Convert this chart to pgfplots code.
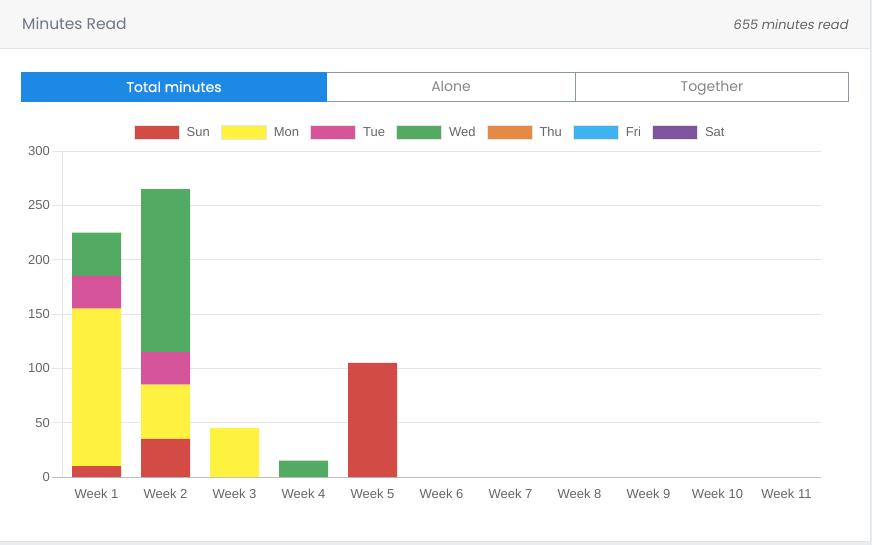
\documentclass[border=0pt]{standalone}
\usepackage{pgfplots}
\pgfplotsset{compat=1.18}
\usepackage{fontspec}
\setmainfont{Liberation Sans}
\newfontfamily\pop{Poppins}
\newfontfamily\popmed{Poppins}[FakeBold=0.6]
\newfontfamily\popit{Poppins}[FakeSlant=0.18]

\definecolor{sun}{RGB}{210,76,69}
\definecolor{mon}{RGB}{255,241,64}
\definecolor{tue}{RGB}{214,85,154}
\definecolor{wed}{RGB}{82,170,99}
\definecolor{thu}{RGB}{227,139,68}
\definecolor{fri}{RGB}{61,179,240}
\definecolor{sat}{RGB}{126,84,156}
\definecolor{gridgray}{RGB}{230,230,230}
\definecolor{zerogray}{RGB}{190,190,190}
\definecolor{textgray}{RGB}{102,102,102}
\definecolor{headbg}{RGB}{247,247,247}
\definecolor{headline}{RGB}{229,229,229}
\definecolor{headtext}{RGB}{108,120,134}
\definecolor{tabblue}{RGB}{30,136,229}
\definecolor{tabborder}{RGB}{138,152,170}
\definecolor{tabtext}{RGB}{136,136,136}
\definecolor{pagebg}{RGB}{233,237,241}

\pgfplotsset{
  leg/.style={legend image code/.code={
    \path[fill=#1, draw=none] (0pt,-7pt) rectangle (45pt,7pt);
    \path[draw=black!10, fill=none, line width=1pt] (0pt,-7pt) rectangle (45pt,7pt);}},
}

\begin{document}
\begin{tikzpicture}
\begin{scope}[x=1pt, y=-1pt]
  \path[use as bounding box] (0,0) rectangle (872,545);
  % card and page
  \fill[pagebg] (0,0) rectangle (872,545);
  \fill[white] (0,0) rectangle (870,541);
  \draw[headline, line width=1pt] (870,0) -- (870,541.5) -- (0,541.5);
  % header
  \fill[headbg] (0,0) rectangle (870,48.5);
  \draw[headline, line width=1pt] (0,49) -- (870,49);
  \node[anchor=base west, inner sep=0pt, text=headtext,
        font=\pop\fontsize{15.5}{18}\selectfont] at (22,30) {Minutes Read};
  \node[anchor=base east, inner sep=0pt, text=textgray,
        font=\popit\fontsize{13}{16}\selectfont] at (848,30) {655 minutes read};
  % tabs
  \fill[tabblue] (21,72) rectangle (326.5,102);
  \draw[tabborder, line width=1pt] (326.5,72.5) -- (848,72.5) -- (848,101.5) -- (326.5,101.5);
  \draw[tabborder, line width=1pt] (575,72.5) -- (575,101.5);
  \node[anchor=base, inner sep=0pt, text=white,
        font=\popmed\fontsize{14}{16}\selectfont] at (174,92) {Total minutes};
  \node[anchor=base, inner sep=0pt, text=tabtext,
        font=\pop\fontsize{14}{16}\selectfont] at (451,92) {Alone};
  \node[anchor=base, inner sep=0pt, text=tabtext,
        font=\pop\fontsize{14}{16}\selectfont] at (712,92) {Together};
\end{scope}

\begin{axis}[
    at={(52pt,-477pt)}, anchor=south west,
    scale only axis, width=769pt, height=326pt,
    ybar stacked, bar width=49pt,
    xmin=-0.64493, xmax=10.5,
    ymin=0, ymax=300,
    xtick={0,...,10},
    xticklabels={Week 1,Week 2,Week 3,Week 4,Week 5,Week 6,Week 7,Week 8,Week 9,Week 10,Week 11},
    ytick={0,50,...,300},
    extra x ticks={-0.5}, extra x tick labels={},
    extra x tick style={grid=major, major grid style={draw=gridgray, line width=1pt}},
    extra y ticks={0}, extra y tick labels={},
    extra y tick style={grid=major, major grid style={draw=zerogray, line width=1pt}},
    ymajorgrids,
    major grid style={draw=gridgray, line width=1pt},
    axis line style={draw=none},
    tick style={draw=none},
    /pgf/number format/assume math mode=true,
    tick label style={font=\fontsize{13}{15}\selectfont, text=textgray},
    yticklabel style={anchor=east, inner sep=0pt, xshift=-2pt},
    xticklabel style={anchor=center, inner sep=0pt, yshift=-17pt},
    legend style={at={(axis description cs:0.4904,1.0553)}, anchor=center,
      draw=none, fill=none, legend columns=-1,
      font=\fontsize{13}{15}\selectfont, text=textgray,
      nodes={inner sep=0pt},
      /tikz/every odd column/.append style={column sep=7pt},
      /tikz/every even column/.append style={column sep=11pt}},
  ]
  \addplot[fill=sun, draw=none, leg=sun] coordinates {(0,10) (1,35) (2,0) (3,0) (4,105) (5,0) (6,0) (7,0) (8,0) (9,0) (10,0)};
  \addlegendentry{Sun}
  \addplot[fill=mon, draw=none, leg=mon] coordinates {(0,145) (1,50) (2,45) (3,0) (4,0) (5,0) (6,0) (7,0) (8,0) (9,0) (10,0)};
  \addlegendentry{Mon}
  \addplot[fill=tue, draw=none, leg=tue] coordinates {(0,30) (1,30) (2,0) (3,0) (4,0) (5,0) (6,0) (7,0) (8,0) (9,0) (10,0)};
  \addlegendentry{Tue}
  \addplot[fill=wed, draw=none, leg=wed] coordinates {(0,40) (1,150) (2,0) (3,15) (4,0) (5,0) (6,0) (7,0) (8,0) (9,0) (10,0)};
  \addlegendentry{Wed}
  \addplot[fill=thu, draw=none, leg=thu] coordinates {(0,0) (1,0) (2,0) (3,0) (4,0) (5,0) (6,0) (7,0) (8,0) (9,0) (10,0)};
  \addlegendentry{Thu}
  \addplot[fill=fri, draw=none, leg=fri] coordinates {(0,0) (1,0) (2,0) (3,0) (4,0) (5,0) (6,0) (7,0) (8,0) (9,0) (10,0)};
  \addlegendentry{Fri}
  \addplot[fill=sat, draw=none, leg=sat] coordinates {(0,0) (1,0) (2,0) (3,0) (4,0) (5,0) (6,0) (7,0) (8,0) (9,0) (10,0)};
  \addlegendentry{Sat}
\end{axis}
\end{tikzpicture}
\end{document}
